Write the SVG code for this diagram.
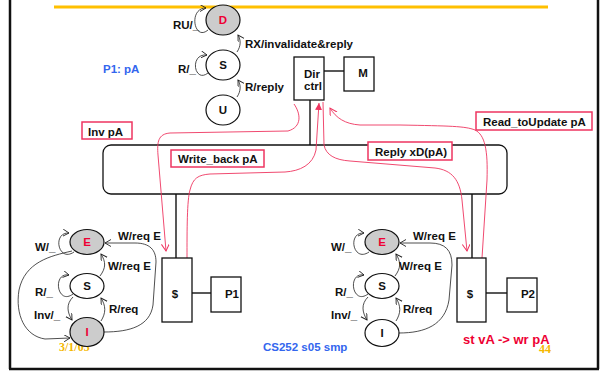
<svg xmlns="http://www.w3.org/2000/svg" width="603" height="372" viewBox="0 0 603 372">
<style>
text{font-family:"Liberation Sans",Arial,sans-serif;font-weight:bold;font-size:11.5px;fill:#111}
.st{fill:#fff;stroke:#111;stroke-width:1.2}
.sg{fill:#cccccc;stroke:#111;stroke-width:1.2}
.bx{fill:#fff;stroke:#111;stroke-width:1.3}
.ln{fill:none;stroke:#111;stroke-width:1.4}
.tr{fill:none;stroke:#222;stroke-width:0.8;marker-end:url(#ah)}
.rc{fill:none;stroke:#ee3560;stroke-width:0.9}
.rb{fill:#fff;stroke:#ee3560;stroke-width:1.5}
.red{fill:#ee0033}
.blue{fill:#3366ee}
.org{font-family:"Liberation Serif","Times New Roman",serif;font-size:12px;fill:#f5b800}
.c{text-anchor:middle}
</style>
<defs>
<marker id="ah" markerUnits="userSpaceOnUse" markerWidth="8" markerHeight="8" refX="6" refY="3.5" orient="auto"><path d="M0,0 L6,3.5 L0,7" fill="none" stroke="#222" stroke-width="0.9"/></marker>
<marker id="ra" markerUnits="userSpaceOnUse" markerWidth="9" markerHeight="9" refX="7" refY="4" orient="auto"><path d="M0,0 L7,4 L0,8" fill="none" stroke="#ee3560" stroke-width="1"/></marker>
<marker id="rf" markerUnits="userSpaceOnUse" markerWidth="9" markerHeight="9" refX="7" refY="3.5" orient="auto"><path d="M0,0 L7,3.5 L0,7 Z" fill="#ee3560"/></marker>
</defs>
<g id="frame">
<line x1="10" y1="0" x2="10" y2="369" stroke="#111" stroke-width="2.5"/>
<line x1="598" y1="0" x2="598" y2="369" stroke="#111" stroke-width="2.5"/>
<line x1="9" y1="369" x2="599" y2="369" stroke="#111" stroke-width="2.5"/>
<line x1="54" y1="7" x2="548" y2="7" stroke="#ffc000" stroke-width="3"/>
</g>
<g id="bus"><rect x="103" y="145" width="404" height="49" rx="8" class="bx"/></g>
<g id="connectors">
<line class="ln" x1="310" y1="100" x2="310" y2="145"/>
<line class="ln" x1="324" y1="71" x2="344" y2="71"/>
<line class="ln" x1="176" y1="194" x2="176" y2="258"/>
<line class="ln" x1="472" y1="194" x2="472" y2="258"/>
<line class="ln" x1="192" y1="293" x2="211" y2="293"/>
<line class="ln" x1="486" y1="293" x2="507" y2="293"/>
<path class="tr" d="M208,30 C194,42 188,8 206,8"/>
<path class="tr" d="M237,52 C241,46 241,40 238,35"/>
<path class="tr" d="M208,73 C194,84 189,53 207,55"/>
<path class="tr" d="M237,97 C241,91 241,85 238,80"/>
<path class="tr" d="M74,252 C58,263 52,232 69,233"/>
<path class="tr" d="M73,294 C57,306 52,272 69,275"/>
<path class="tr" d="M73,297 C66,304 67,312 72,320"/>
<path class="tr" d="M101,321 C106,313 106,306 101,298"/>
<path class="tr" d="M100,276 C106,268 106,262 101,254"/>
<path class="tr" d="M104,332 C130,332 150,326 153,305 L156,262 C156,250 150,243 135,243 L105,243"/>
<path class="tr" d="M72,251 C50,256 25,262 19,290 C15,315 25,336 45,339 L70,338"/>
<path class="tr" d="M369,252 C353,263 347,232 364,233"/>
<path class="tr" d="M368,294 C352,306 347,272 364,275"/>
<path class="tr" d="M368,297 C361,304 362,312 367,320"/>
<path class="tr" d="M396,321 C401,313 401,306 396,298"/>
<path class="tr" d="M395,276 C401,268 401,262 396,254"/>
<path class="tr" d="M399,333 C425,333 445,325 449,300 L452,265 C452,250 445,243 430,243 L400,243"/>
<path class="rc" marker-end="url(#ra)" d="M294,104 C301,114 302,127 288,131 L170,133 C158,134 157,142 158,155 L166,251"/>
<path class="rc" marker-end="url(#rf)" d="M187,258 C187,230 187,200 190,190 C193,178 198,175 210,174 L285,172 C300,171 313,165 316,150 L319,103"/>
<path class="rc" marker-end="url(#ra)" d="M323,102 L324,145 C326,155 335,160 350,161 L435,168 C452,170 460,180 462,200 L467,251"/>
<path class="rc" marker-end="url(#ra)" d="M482,258 L487,180 C488,150 485,135 475,130 C465,126 450,126 400,125 L360,125 C345,124 336,118 330,108"/>
</g>
<g id="dirctrl"><rect x="294" y="57" width="30" height="43" class="bx"/><text x="312" y="78" class="c">Dir</text><text x="313" y="90" class="c">ctrl</text></g>
<g id="mem"><rect x="344" y="57" width="30" height="34" class="bx"/><text x="363" y="77" class="c">M</text></g>
<g id="cache1"><rect x="162" y="258" width="30" height="64" class="bx"/><text x="175" y="298" class="c">$</text></g>
<g id="p1"><rect x="211" y="277" width="30" height="35" class="bx"/><text x="232" y="298" class="c">P1</text></g>
<g id="cache2"><rect x="457" y="258" width="29" height="64" class="bx"/><text x="470" y="298" class="c">$</text></g>
<g id="p2"><rect x="507" y="278" width="30" height="34" class="bx"/><text x="528" y="298" class="c">P2</text></g>
<g id="top-states">
<ellipse id="stD" cx="223" cy="20" rx="17" ry="15" class="sg"/><text x="223" y="24" class="c red">D</text>
<ellipse id="stS" cx="223" cy="65" rx="17" ry="15" class="st"/><text x="223" y="69" class="c">S</text>
<ellipse id="stU" cx="223" cy="110" rx="17" ry="15" class="st"/><text x="223" y="114" class="c">U</text>
<text x="173" y="29">RU/_</text>
<text x="245" y="48">RX/invalidate&amp;reply</text>
<text x="178" y="73">R/_</text>
<text x="245" y="91">R/reply</text>
<text x="103" y="73" class="blue">P1: pA</text>
</g>
<g id="left-states">
<text x="59" y="351" class="org">3/1/05</text>
<ellipse cx="87" cy="242" rx="17" ry="12.5" class="sg"/><text x="87" y="246" class="c red">E</text>
<ellipse cx="87" cy="286" rx="17" ry="12.5" class="st"/><text x="87" y="290" class="c">S</text>
<ellipse cx="87" cy="332" rx="17" ry="14.5" class="sg"/><text x="87" y="336" class="c red">I</text>
<text x="35" y="251">W/_</text>
<text x="118" y="240">W/req E</text>
<text x="108" y="270">W/req E</text>
<text x="35" y="296">R/_</text>
<text x="109" y="313">R/req</text>
<text x="34" y="319">Inv/_</text>
</g>
<g id="right-states">
<ellipse cx="382" cy="242" rx="17" ry="12.5" class="sg"/><text x="382" y="246" class="c red">E</text>
<ellipse cx="382" cy="286" rx="17" ry="12.5" class="st"/><text x="382" y="290" class="c">S</text>
<ellipse cx="382" cy="333" rx="17" ry="13.5" class="st"/><text x="382" y="337" class="c">I</text>
<text x="331" y="251">W/_</text>
<text x="413" y="240">W/req E</text>
<text x="399" y="270">W/req E</text>
<text x="335" y="296">R/_</text>
<text x="403" y="313">R/req</text>
<text x="331" y="319">Inv/_</text>
</g>
<g id="msg-labels">
<g id="lbl-inv"><rect x="82" y="122" width="50" height="17" class="rb"/><text x="88" y="136">Inv pA</text></g>
<g id="lbl-wb"><rect x="171" y="150" width="93" height="17" class="rb"/><text x="178" y="163">Write_back pA</text></g>
<g id="lbl-reply"><rect x="368" y="142" width="84" height="18" class="rb"/><text x="375" y="156">Reply xD(pA)</text></g>
<g id="lbl-rtu"><rect x="476" y="112" width="116" height="18" class="rb"/><text x="483" y="126">Read_toUpdate pA</text></g>
</g>
<g id="footer">
<text x="263" y="351" class="blue">CS252 s05 smp</text>
<text x="463" y="344" class="red" style="font-size:13px">st vA -&gt; wr pA</text>
<text x="539" y="353" class="org">44</text>
</g>
</svg>
